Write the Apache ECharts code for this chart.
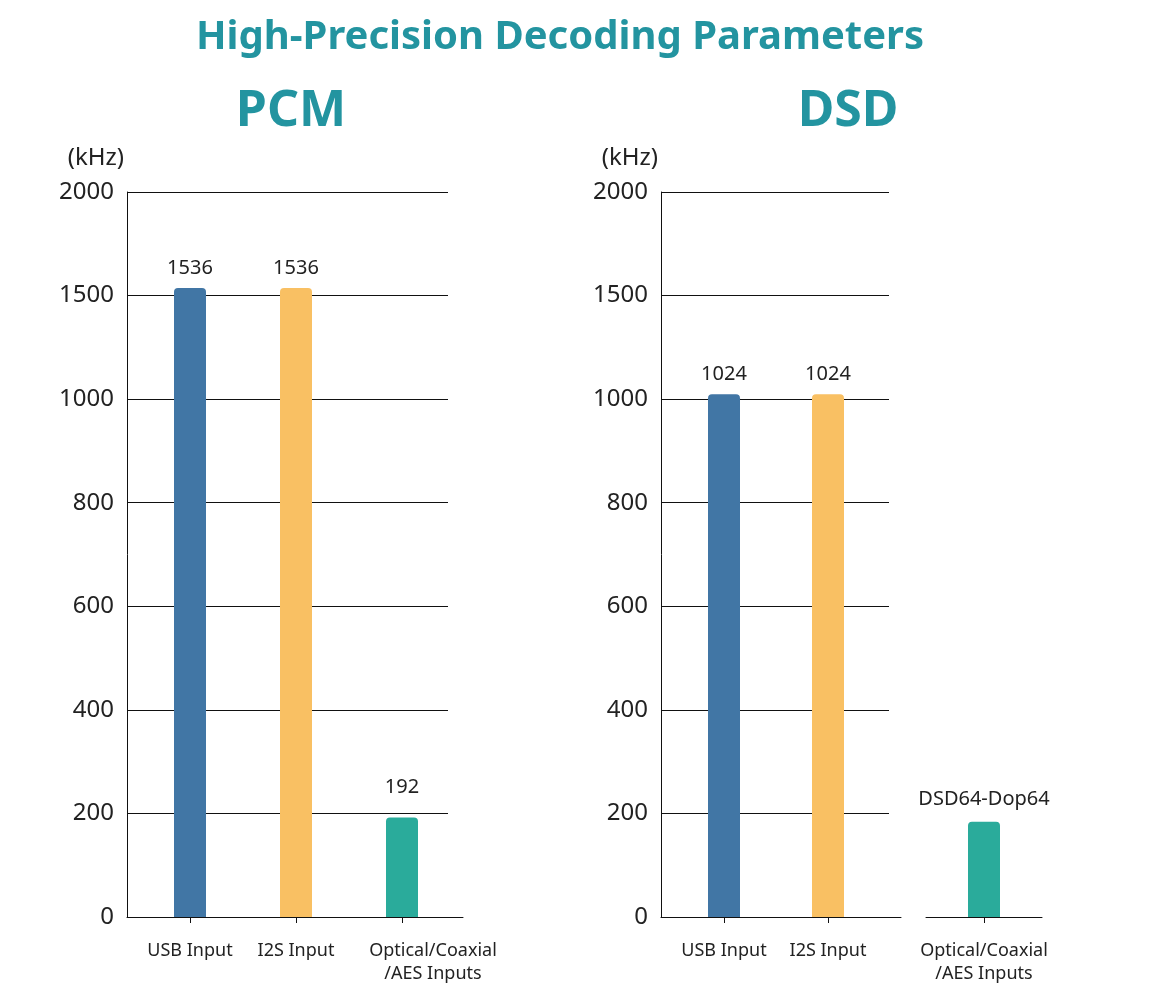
<!DOCTYPE html>
<html>
<head>
<meta charset="utf-8">
<style>
  html, body { margin: 0; padding: 0; background: #fff; }
  #chart { width: 1168px; height: 1006px; }
</style>
<script src="https://cdn.jsdelivr.net/npm/echarts@6/dist/echarts.min.js"></script>
</head>
<body>
<div id="chart"></div>
<script>
// tick labels of the (non linear) value axis, evenly spaced on screen
const yTicks = [0, 200, 400, 600, 800, 1000, 1500, 2000];

const pcmCategories = ['USB Input', 'I2S Input', 'Optical/Coaxial\n/AES Inputs'];
const pcmValues = [1536, 1536, 192];

const dsdCategories = ['USB Input', 'I2S Input'];
const dsdValues = [1024, 1024];

const dsdExtraCategories = ['Optical/Coaxial\n/AES Inputs'];
const dsdExtraValues = [184];
const dsdExtraLabels = ['DSD64-Dop64'];

const barColors = ['#4176a5', '#f9c063', '#2aab9b'];

const TEAL = '#2394a0';
const INK = '#111';
const TEXT = '#222';
const FONT = 'Noto Sans';

// kHz -> position on the evenly spaced tick axis
function toAxis(v) {
  for (let i = 0; i < yTicks.length - 1; i++) {
    if (v <= yTicks[i + 1]) {
      return i + (v - yTicks[i]) / (yTicks[i + 1] - yTicks[i]);
    }
  }
  return yTicks.length - 1;
}

const chart = echarts.init(document.getElementById('chart'));

const TOP = 192, H = 725;
const gridDefs = [
  { left: 127, width: 321 }, // 0 PCM y axis + grid lines
  { left: 137, width: 318 }, // 1 PCM bars
  { left: 127, width: 336 }, // 2 PCM x axis line
  { left: 661, width: 228 }, // 3 DSD y axis + grid lines
  { left: 672, width: 208 }, // 4 DSD bars
  { left: 661, width: 240 }, // 5 DSD x axis line
  { left: 926, width: 116 }  // 6 DSD optical bar
];

const catLabel = {
  interval: 0,
  fontSize: 18,
  color: TEXT,
  fontFamily: FONT,
  lineHeight: 23,
  margin: 22
};
const catTick = { show: true, interval: 0, alignWithLabel: true, length: 6, lineStyle: { color: INK, width: 1 } };
const baseLine = { show: true, lineStyle: { color: INK, width: 1 } };

function mainY(gridIndex) {
  return {
    type: 'value', gridIndex: gridIndex, min: 0, max: yTicks.length - 1, interval: 1,
    name: '(kHz)',
    nameLocation: 'end',
    nameGap: 22,
    nameTextStyle: { fontSize: 24, color: TEXT, fontFamily: FONT, align: 'right', padding: [0, 3, 0, 0] },
    axisLine: { show: true, lineStyle: { color: INK, width: 1 } },
    axisTick: { show: false },
    axisLabel: { fontSize: 24, color: TEXT, fontFamily: FONT, margin: 13, formatter: v => yTicks[v] },
    splitLine: { show: true, lineStyle: { color: INK, width: 1 } }
  };
}

function hiddenY(gridIndex) {
  return { type: 'value', gridIndex: gridIndex, min: 0, max: yTicks.length - 1, interval: 1, show: false };
}

function barSeries(xi, values, colorOffset, labelText, labelGaps) {
  return {
    type: 'bar',
    xAxisIndex: xi,
    yAxisIndex: xi,
    barWidth: 32,
    animation: false,
    data: values.map((v, i) => ({
      value: toAxis(v),
      itemStyle: { color: barColors[i + colorOffset], borderRadius: [4, 4, 0, 0] },
      label: { distance: labelGaps ? labelGaps[i] : 10 }
    })),
    label: {
      show: true,
      position: 'top',
      fontSize: 20,
      color: TEXT,
      fontFamily: FONT,
      formatter: p => labelText[p.dataIndex]
    }
  };
}

chart.setOption({
  backgroundColor: '#fff',
  title: [
    { text: 'High-Precision Decoding Parameters', left: 560, top: 18, textAlign: 'center', padding: 0,
      textStyle: { fontSize: 40, fontWeight: 'bold', color: TEAL, fontFamily: FONT } },
    { text: 'PCM', left: 291, top: 87, textAlign: 'center', padding: 0,
      textStyle: { fontSize: 50, fontWeight: 'bold', color: TEAL, fontFamily: FONT } },
    { text: 'DSD', left: 848, top: 87, textAlign: 'center', padding: 0,
      textStyle: { fontSize: 50, fontWeight: 'bold', color: TEAL, fontFamily: FONT } }
  ],
  grid: gridDefs.map(g => ({ left: g.left, width: g.width, top: TOP, height: H, containLabel: false })),
  xAxis: [
    { type: 'category', gridIndex: 0, data: pcmCategories, show: false },
    {
      type: 'category', gridIndex: 1,
      data: pcmCategories.map((c, i) => i === 2 ? { value: c, textStyle: { padding: [0, 0, 0, 62] } } : c),
      axisLine: baseLine,
      axisTick: catTick,
      axisLabel: catLabel
    },
    {
      type: 'category', gridIndex: 2, data: [''],
      axisLine: baseLine,
      axisTick: { show: false }, axisLabel: { show: false }
    },
    { type: 'category', gridIndex: 3, data: dsdCategories, show: false },
    {
      type: 'category', gridIndex: 4, data: dsdCategories,
      axisLine: baseLine,
      axisTick: catTick,
      axisLabel: catLabel
    },
    {
      type: 'category', gridIndex: 5, data: [''],
      axisLine: baseLine,
      axisTick: { show: false }, axisLabel: { show: false }
    },
    {
      type: 'category', gridIndex: 6, data: dsdExtraCategories,
      axisLine: baseLine,
      axisTick: catTick,
      axisLabel: catLabel
    }
  ],
  yAxis: [
    mainY(0), hiddenY(1), hiddenY(2),
    mainY(3), hiddenY(4), hiddenY(5), hiddenY(6)
  ],
  series: [
    barSeries(1, pcmValues, 0, pcmValues.map(String), [10, 10, 20]),
    barSeries(4, dsdValues, 0, dsdValues.map(String)),
    barSeries(6, dsdExtraValues, 2, dsdExtraLabels, [12])
  ]
});
</script>
</body>
</html>
